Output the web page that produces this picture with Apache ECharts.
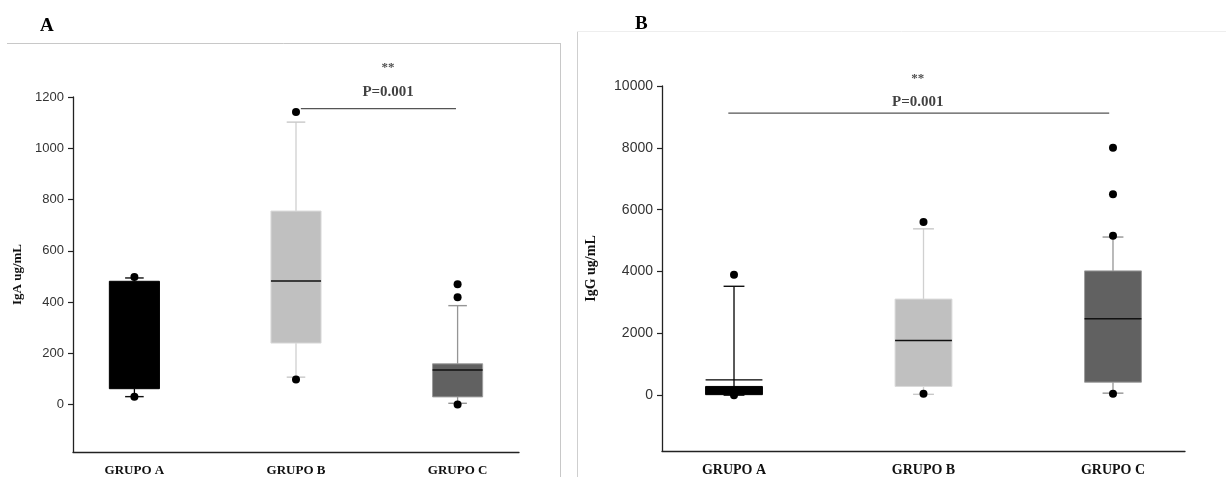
<!DOCTYPE html>
<html><head><meta charset="utf-8">
<script src="https://cdn.jsdelivr.net/npm/echarts@6/dist/echarts.min.js"></script>
<style>html,body{margin:0;padding:0;background:#fff}#c{width:1226px;height:477px}</style>
</head><body><div id="c"></div>
<script>
// ---- data ----
const categories = ['GRUPO A', 'GRUPO B', 'GRUPO C'];
const igaTicks = [0, 200, 400, 600, 800, 1000, 1200];
const iggTicks = [0, 2000, 4000, 6000, 8000, 10000];

// Panel A: IgA ug/mL (lower cap, Q1, median, Q3, upper cap)
const igaLow    = [31, 107, 5];
const igaQ1     = [62, 240, 30];
const igaMedian = [470, 482, 135];
const igaQ3     = [481, 755, 159];
const igaHigh   = [494, 1102, 386];
const igaOutliers = [[1, 498], [1, 31], [2, 1141], [2, 98], [3, 469], [3, 419], [3, 0]];

// Panel B: IgG ug/mL
const iggLow    = [5, 32, 70];
const iggQ1     = [22, 287, 425];
const iggMedian = [500, 1773, 2474];
const iggQ3     = [287, 3111, 4023];
const iggHigh   = [3525, 5382, 5117];
const iggOutliers = [[1, 3895], [1, 0], [2, 5605], [2, 54], [3, 8000], [3, 6500], [3, 5159], [3, 50]];

// significance annotations
const igaBracket = [[2.03, 1155], [2.99, 1155]];
const iggBracket = [[0.97, 9120], [2.98, 9120]];
const igaNote = [[2.57, 1155]];
const iggNote = [[1.97, 9120]];
const starText = '**';
const pText = 'P=0.001';

// ---- styles ----
const boxStyles = [
  { fill: '#000000', edge: '#000000', whisker: '#000000', cap: '#111111', median: '#000000' },
  { fill: '#c0c0c0', edge: '#dadada', whisker: '#d0d0d0', cap: '#c8c8c8', median: '#111111' },
  { fill: '#616161', edge: '#9c9c9c', whisker: '#959595', cap: '#959595', median: '#111111' }
];
const SERIF = '"Liberation Serif", "DejaVu Serif", serif';
const SANS = '"Liberation Sans", Arial, sans-serif';

function buildBoxData(lo, q1, md, q3, hi) {
  return categories.map((c, i) => [i + 1, lo[i], q1[i], md[i], q3[i], hi[i]]);
}

function boxRenderer(boxW, capW) {
  return function (params, api) {
    const x = api.value(0);
    const lo = api.value(1), q1 = api.value(2), md = api.value(3), q3 = api.value(4), hi = api.value(5);
    const s = boxStyles[params.dataIndex];
    const tl = api.coord([x - boxW / 2, q3]);
    const br = api.coord([x + boxW / 2, q1]);
    const pHi = api.coord([x, hi]), pQ3 = api.coord([x, q3]), pQ1 = api.coord([x, q1]), pLo = api.coord([x, lo]);
    const capL = api.coord([x - capW / 2, hi])[0], capR = api.coord([x + capW / 2, hi])[0];
    const mdY = api.coord([x, md])[1];
    return {
      type: 'group',
      children: [
        { type: 'line', shape: { x1: pQ3[0], y1: pQ3[1], x2: pHi[0], y2: pHi[1] }, style: { stroke: s.whisker, lineWidth: 1.3 } },
        { type: 'line', shape: { x1: pQ1[0], y1: pQ1[1], x2: pLo[0], y2: pLo[1] }, style: { stroke: s.whisker, lineWidth: 1.3 } },
        { type: 'line', shape: { x1: capL, y1: pHi[1], x2: capR, y2: pHi[1] }, style: { stroke: s.cap, lineWidth: 1.4 } },
        { type: 'line', shape: { x1: capL, y1: pLo[1], x2: capR, y2: pLo[1] }, style: { stroke: s.cap, lineWidth: 1.4 } },
        { type: 'rect', shape: { x: tl[0], y: tl[1], width: br[0] - tl[0], height: br[1] - tl[1] }, style: { fill: s.fill, stroke: s.edge, lineWidth: 1 } },
        { type: 'line', shape: { x1: tl[0], y1: mdY, x2: br[0], y2: mdY }, style: { stroke: s.median, lineWidth: 1.4 } }
      ]
    };
  };
}

function xAxisDef(gridIndex, fontSize) {
  return {
    type: 'value', gridIndex: gridIndex, min: 0.62, max: 3.38,
    axisLine: { show: true, onZero: false, lineStyle: { color: '#222', width: 1.3 } },
    axisTick: { show: false },
    splitLine: { show: false },
    axisLabel: {
      customValues: [1, 2, 3],
      formatter: v => categories[Math.round(v) - 1],
      fontFamily: SERIF, fontWeight: 'bold', fontSize: fontSize, color: '#111', margin: 12
    }
  };
}
function yAxisDef(gridIndex, min, max, ticks, name, nameGap, fontSize, nameSize) {
  return {
    type: 'value', gridIndex: gridIndex, min: min, max: max,
    name: name, nameLocation: 'middle', nameGap: nameGap, nameRotate: 90,
    nameTextStyle: { fontFamily: SERIF, fontWeight: 'bold', fontSize: nameSize, color: '#111' },
    axisLine: { show: true, onZero: false, lineStyle: { color: '#222', width: 1.3 } },
    axisTick: { show: true, customValues: ticks, length: 5, lineStyle: { color: '#222', width: 1.2 } },
    splitLine: { show: false },
    axisLabel: { customValues: ticks, formatter: v => String(v), fontFamily: SANS, fontSize: fontSize, color: '#333', margin: 9 }
  };
}
function noteSeries(idx, data, distance, starLH) {
  return {
    type: 'scatter', xAxisIndex: idx, yAxisIndex: idx, data: data, symbolSize: 1,
    itemStyle: { color: 'rgba(0,0,0,0)' }, silent: true, clip: false, z: 5,
    label: {
      show: true, position: 'top', distance: distance,
      formatter: '{s|' + starText + '}\n{p|' + pText + '}',
      rich: {
        s: { fontFamily: SERIF, fontWeight: 'bold', fontSize: 13, color: '#222', lineHeight: starLH, align: 'center' },
        p: { fontFamily: SERIF, fontWeight: 'bold', fontSize: 15, color: '#111', lineHeight: 20, align: 'center' }
      }
    }
  };
}

const chart = echarts.init(document.getElementById('c'), null, { renderer: 'canvas' });
chart.setOption({
  animation: false,
  backgroundColor: '#ffffff',
  grid: [
    { left: 73, top: 97, width: 446, height: 359 },
    { left: 662, top: 86, width: 523, height: 371 }
  ],
  xAxis: [xAxisDef(0, 13), xAxisDef(1, 14)],
  yAxis: [
    yAxisDef(0, -185, 1200, igaTicks, 'IgA ug/mL', 49, 13, 13),
    yAxisDef(1, -1800, 10000, iggTicks, 'IgG ug/mL', 64, 14, 14)
  ],
  graphic: [
    { type: 'line', shape: { x1: 7, y1: 43.5, x2: 560.5, y2: 43.5 }, style: { stroke: '#c8c8c8', lineWidth: 1 } },
    { type: 'line', shape: { x1: 560.5, y1: 43, x2: 560.5, y2: 477 }, style: { stroke: '#c8c8c8', lineWidth: 1 } },
    { type: 'line', shape: { x1: 577.5, y1: 32, x2: 577.5, y2: 477 }, style: { stroke: '#cfcfcf', lineWidth: 1 } },
    { type: 'line', shape: { x1: 577, y1: 31.5, x2: 1226, y2: 31.5 }, style: { stroke: '#eeeeee', lineWidth: 1 } },
    { type: 'text', left: 40, top: 17, style: { text: 'A', font: 'bold 19px ' + SERIF, fill: '#000' } },
    { type: 'text', left: 635, top: 15, style: { text: 'B', font: 'bold 19px ' + SERIF, fill: '#000' } }
  ],
  series: [
    {
      type: 'custom', xAxisIndex: 0, yAxisIndex: 0, renderItem: boxRenderer(0.31, 0.115),
      data: buildBoxData(igaLow, igaQ1, igaMedian, igaQ3, igaHigh), encode: { x: 0, y: [1, 2, 3, 4, 5] }, z: 2, silent: true
    },
    {
      type: 'scatter', xAxisIndex: 0, yAxisIndex: 0, data: igaOutliers, symbolSize: 8,
      itemStyle: { color: '#000', opacity: 1 }, z: 4, silent: true
    },
    {
      type: 'line', xAxisIndex: 0, yAxisIndex: 0, data: igaBracket, symbol: 'none',
      lineStyle: { color: '#555', width: 1.3 }, silent: true, z: 3
    },
    noteSeries(0, igaNote, 6, 28),
    {
      type: 'custom', xAxisIndex: 1, yAxisIndex: 1, renderItem: boxRenderer(0.30, 0.11),
      data: buildBoxData(iggLow, iggQ1, iggMedian, iggQ3, iggHigh), encode: { x: 0, y: [1, 2, 3, 4, 5] }, z: 2, silent: true
    },
    {
      type: 'scatter', xAxisIndex: 1, yAxisIndex: 1, data: iggOutliers, symbolSize: 8,
      itemStyle: { color: '#000', opacity: 1 }, z: 4, silent: true
    },
    {
      type: 'line', xAxisIndex: 1, yAxisIndex: 1, data: iggBracket, symbol: 'none',
      lineStyle: { color: '#555', width: 1.3 }, silent: true, z: 3
    },
    noteSeries(1, iggNote, 1, 27)
  ]
});
</script>
</body></html>
